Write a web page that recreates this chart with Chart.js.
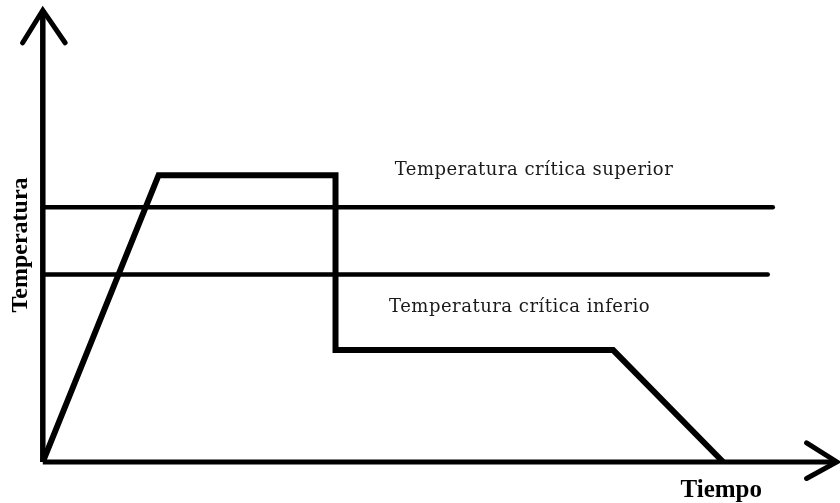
<!DOCTYPE html>
<html>
<head>
<meta charset="utf-8">
<script src="https://cdn.jsdelivr.net/npm/chart.js@4"></script>
<style>
  html, body { margin: 0; padding: 0; background: #fff; }
  #wrap { width: 840px; height: 503px; position: relative; }
</style>
</head>
<body>
<div id="wrap"><canvas id="grafico"></canvas></div>
<script>
// tiempo / temperatura en unidades relativas (0-100)
const procesoX = [0, 16.1, 40.7, 40.7, 79.3, 94.6]
const procesoY = [0, 66.1, 66.1, 25.8, 25.8, 0]

const criticaSuperiorY = 58.7
const criticaSuperiorFin = 101.5
const criticaInferiorY = 43.2
const criticaInferiorFin = 100.8

// ejes con flecha
const ejeYX = [0, 0]
const ejeYY = [0, 104.1]
const flechaYX = [-2.8, 0, 3.1]
const flechaYY = [96.6, 104.1, 96.6]
const ejeXX = [0, 110.4]
const ejeXY = [0, 0]
const flechaXX = [106.2, 110.4, 106.2]
const flechaXY = [4.4, 0, -3.8]

const etiquetas = ["Temperatura crítica superior", "Temperatura crítica inferio"]
const etiquetasX = [68.3, 66.3]
const etiquetasY = [67.3, 35.7]

function puntos(xs, ys){
    return xs.map((x, i) => ({x: x, y: ys[i]}))
}

function serie(data, width, cap){
    return {
        data: data,
        showLine: true,
        borderColor: "#000",
        backgroundColor: "#000",
        borderWidth: width,
        borderCapStyle: cap || "butt",
        borderJoinStyle: "miter",
        pointRadius: 0,
        pointHoverRadius: 0,
        tension: 0,
        clip: false
    }
}

const textosPlugin = {
    id: "textos",
    afterDatasetsDraw(chart){
        const ctx = chart.ctx
        const sx = chart.scales.x
        const sy = chart.scales.y
        ctx.save()
        ctx.font = "18px 'DejaVu Serif'"
        ctx.letterSpacing = "0.5px"
        ctx.fillStyle = "#1a1a1a"
        ctx.textAlign = "center"
        ctx.textBaseline = "middle"
        for (var i = 0; i < etiquetas.length; i++) {
            ctx.fillText(etiquetas[i], sx.getPixelForValue(etiquetasX[i]), sy.getPixelForValue(etiquetasY[i]))
        }
        ctx.restore()
    }
}

new Chart(document.getElementById("grafico"), {
    type: "scatter",
    data: {
        datasets: [
            serie(puntos(ejeYX, ejeYY), 5.5),
            serie(puntos(flechaYX, flechaYY), 5, "round"),
            serie(puntos(ejeXX, ejeXY), 5),
            serie(puntos(flechaXX, flechaXY), 5, "round"),
            serie([{x: 0, y: criticaSuperiorY}, {x: criticaSuperiorFin, y: criticaSuperiorY}], 4.5, "round"),
            serie([{x: 0, y: criticaInferiorY}, {x: criticaInferiorFin, y: criticaInferiorY}], 4.5, "round"),
            serie(puntos(procesoX, procesoY), 6)
        ]
    },
    options: {
        responsive: true,
        maintainAspectRatio: false,
        animation: false,
        events: [],
        layout: { padding: { left: 0, right: 78, top: 28, bottom: 0 } },
        plugins: {
            legend: { display: false },
            tooltip: { enabled: false }
        },
        scales: {
            x: {
                type: "linear",
                min: 0,
                max: 100,
                grid: { display: false, drawTicks: false },
                border: { display: false },
                ticks: { display: false },
                title: {
                    display: true,
                    text: "Tiempo",
                    align: "end",
                    color: "#000",
                    font: { family: "'Liberation Serif'", size: 25, weight: "bold", lineHeight: 1.0 },
                    padding: { top: 16, bottom: 0 }
                }
            },
            y: {
                type: "linear",
                min: 0,
                max: 100,
                grid: { display: false, drawTicks: false },
                border: { display: false },
                ticks: { display: false },
                title: {
                    display: true,
                    text: "Temperatura",
                    color: "#000",
                    font: { family: "'Liberation Serif'", size: 24, weight: "bold", lineHeight: 1.2 },
                    padding: { top: 6, bottom: 8 }
                }
            }
        }
    },
    plugins: [textosPlugin]
});
</script>
</body>
</html>
